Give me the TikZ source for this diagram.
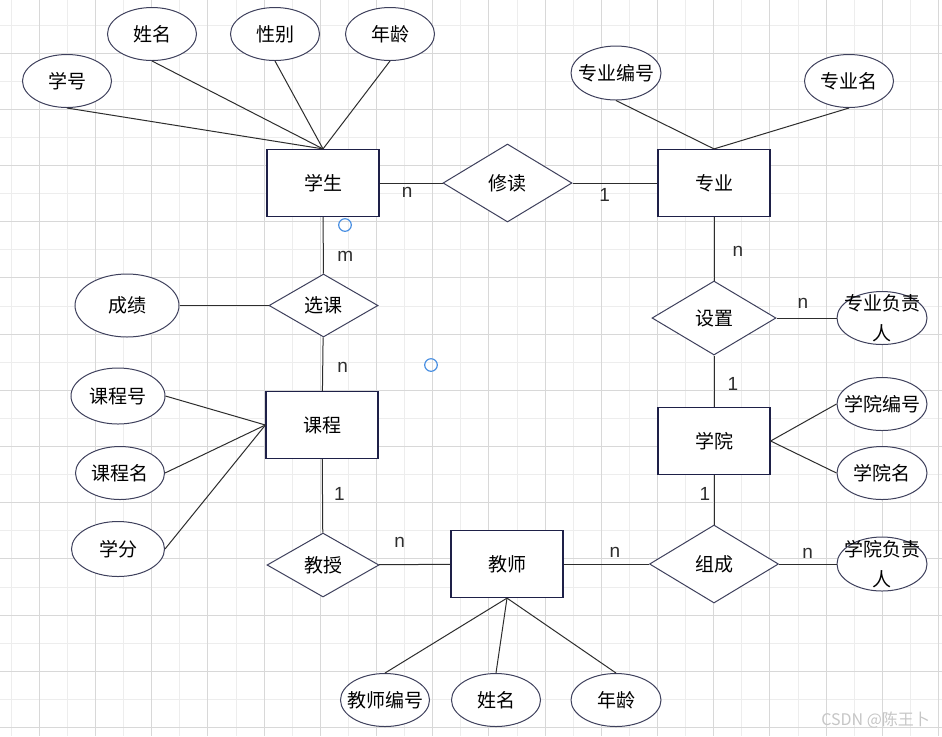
\documentclass[tikz,border=0pt]{standalone}
\usepackage{fontspec}
\usepackage{tikz}
\usetikzlibrary{shapes.geometric,positioning}
\setmainfont{Liberation Sans}
\newfontfamily\cjk{Noto Sans CJK SC}
\definecolor{erLine}   {RGB}{30, 32, 72}
\definecolor{erEdge}   {RGB}{62, 64, 92}
\definecolor{erWire}   {RGB}{45, 45, 45}
\definecolor{gridMinor}{RGB}{237,237,237}
\definecolor{gridMajor}{RGB}{216,216,216}
\definecolor{markBlue} {RGB}{74, 144,226}

\begin{document}
\begin{tikzpicture}[x=0.5pt,y=-0.5pt,
          ent/.style={rectangle,draw=erLine,fill=white,line width=0.6pt,
                      minimum width=56pt,minimum height=33.5pt,inner sep=0pt,
                      font=\cjk\fontsize{9.5}{11}\selectfont},
          rel/.style={diamond,draw=erEdge,fill=white,line width=0.5pt,inner sep=0pt,
                      font=\cjk\fontsize{9.5}{11}\selectfont},
          attr/.style={ellipse,draw=erEdge,fill=white,line width=0.5pt,inner sep=0pt,
                      minimum width=44.5pt,minimum height=26.5pt,
                      label={[font=\cjk\fontsize{9.5}{15}\selectfont,align=center]center:#1}},
          wire/.style={erWire,line width=0.5pt},
          card/.style={font=\fontsize{9.5}{11}\selectfont,inner sep=0pt}]
          \fill[white] (0,0) rectangle (942,736);
          \useasboundingbox (0,0) rectangle (942,736);
          % grid
          \foreach \k in {0,2,...,32} \draw[gridMinor,line width=0.5pt] ({11.2+28.1*\k},0) -- ({11.2+28.1*\k},736);
          \foreach \k in {0,2,...,24} \draw[gridMinor,line width=0.5pt] (0,{25+28.1*\k}) -- (942,{25+28.1*\k});
          \foreach \k in {1,3,...,33} \draw[gridMajor,line width=0.5pt] ({11.2+28.1*\k},0) -- ({11.2+28.1*\k},736);
          \foreach \k in {1,3,...,25} \draw[gridMajor,line width=0.5pt] (0,{25+28.1*\k}) -- (942,{25+28.1*\k});
          % entities
          \node[ent] (stu) at (323,183) {学生};
          \node[ent] (maj) at (714,183) {专业};
          \node[ent] (crs) at (322,425) {课程};
          \node[ent] (col) at (714,441) {学院};
          \node[ent] (tea) at (507,564) {教师};
          % relations
          \node[rel,minimum width=64.5pt,minimum height=39pt] (study) at (507.5,183) {修读};
          \node[rel,minimum width=54.5pt,minimum height=31.5pt] (pick) at (323.5,305.5) {选课};
          \node[rel,minimum width=56pt,minimum height=32pt] (teach) at (323,565) {教授};
          \node[rel,minimum width=62pt,minimum height=37pt] (setup) at (714,318) {设置};
          \node[rel,minimum width=64.5pt,minimum height=39pt] (form) at (714,564) {组成};
          % attributes
          \node[attr={学号}] (sno) at (67,81) {};
          \node[attr={姓名}] (sname) at (152,34) {};
          \node[attr={性别}] (ssex) at (275,34) {};
          \node[attr={年龄}] (sage) at (390,34) {};
          \node[attr={专业编号},minimum width=45pt,minimum height=27pt] (mno) at (616,73) {};
          \node[attr={专业名}] (mname) at (849,81) {};
          \node[attr={成绩},minimum width=52pt,minimum height=31.5pt] (grade) at (127,305.5) {};
          \node[attr={课程号},minimum width=47pt,minimum height=28pt] (cno) at (118,396) {};
          \node[attr={课程名}] (cname) at (120,473) {};
          \node[attr={学分},minimum width=46.5pt,minimum height=27.5pt] (credit) at (118,549) {};
          \node[attr={专业负责\\人},minimum width=45pt] (mhead) at (882,318) {};
          \node[attr={学院编号},minimum width=45pt] (cono) at (882,404) {};
          \node[attr={学院名},minimum width=45pt] (coname) at (882,473) {};
          \node[attr={学院负责\\人},minimum width=45pt,minimum height=27pt] (chead) at (882,564) {};
          \node[attr={教师编号}] (tno) at (385,700) {};
          \node[attr={姓名}] (tname) at (496,700) {};
          \node[attr={年龄},minimum width=45pt] (tage) at (616,700) {};
          % relation lines
          \draw[wire] (stu) -- (study) node[card,pos=0.44,yshift=-4.5pt]{n};
          \draw[wire] (study) -- (maj) node[card,pos=0.38,yshift=-6pt]{1};
          \draw[wire] (stu) -- (pick) node[card,pos=0.69,xshift=11pt]{m};
          \draw[wire] (grade) -- (pick);
          \draw[wire] (pick) -- (crs) node[card,pos=0.56,xshift=10pt]{n};
          \draw[wire] (crs) -- (teach) node[card,pos=0.48,xshift=8.5pt]{1};
          \draw[wire] (teach) -- (tea) node[card,pos=0.29,yshift=11pt]{n};
          \draw[wire] (tea) -- (form) node[card,pos=0.6,yshift=6pt]{n};
          \draw[wire] (form) -- (chead) node[card,pos=0.5,yshift=5.5pt]{n};
          \draw[wire] (col) -- (form) node[card,pos=0.38,xshift=-4.5pt]{1};
          \draw[wire] (setup) -- (col) node[card,pos=0.55,xshift=9.5pt]{1};
          \draw[wire] (maj) -- (setup) node[card,pos=0.54,xshift=12pt]{n};
          \draw[wire] (setup) -- (mhead) node[card,pos=0.44,yshift=7.5pt]{n};
          % attribute lines
          \foreach \a in {sno,sname,ssex,sage} \draw[wire] (\a.south) -- (stu.north);
          \foreach \a in {mno,mname} \draw[wire] (\a.south) -- (maj.north);
          \foreach \a in {cno,cname,credit} \draw[wire] (\a.east) -- (crs.west);
          \foreach \a in {cono,coname} \draw[wire] (col.east) -- (\a.west);
          \foreach \a in {tno,tname,tage} \draw[wire] (tea.south) -- (\a.north);
          % handles and mark
          \node[circle,draw=markBlue,line width=0.6pt,minimum size=6.3pt,inner sep=0pt] (h1) at (345,225) {};
          \node[circle,draw=markBlue,line width=0.6pt,minimum size=6.3pt,inner sep=0pt] (h2) at (431,365) {};
          \node[anchor=east,text=gray!45,font=\cjk\fontsize{8}{9}\selectfont] (mark) at (937,720) {CSDN @陈王卜};
        \end{tikzpicture}
\end{document}
